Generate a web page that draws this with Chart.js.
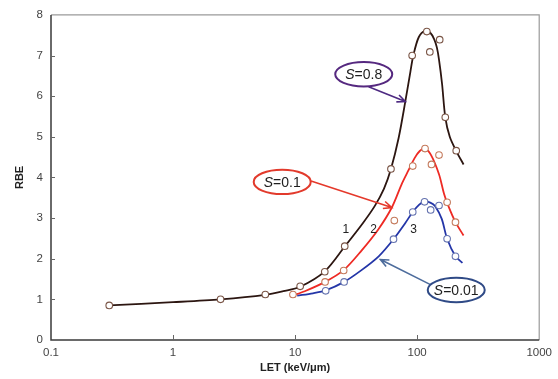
<!DOCTYPE html>
<html>
<head>
  <meta charset="utf-8">
  <title>RBE vs LET</title>
  <script src="https://cdn.jsdelivr.net/npm/chart.js"></script>
  <style>
    html, body { margin: 0; padding: 0; background: #fff; }
    #wrap { width: 558px; height: 379px; }
  </style>
</head>
<body>
  <div id="wrap"><canvas id="myChart" width="558" height="379"></canvas></div>
  <script>
    // measured points (open circles)
    const s08PointLET = [0.30, 2.45, 5.7, 11, 17.5, 25.5, 61, 91, 120, 127, 153, 170, 209];
    const s08PointRBE = [0.85, 1.00, 1.12, 1.32, 1.68, 2.31, 4.21, 7.00, 7.59, 7.09, 7.39, 5.48, 4.66];
    const s01PointLET = [9.6, 17.6, 25, 65, 92, 116, 131, 151, 176, 206];
    const s01PointRBE = [1.12, 1.43, 1.71, 2.94, 4.28, 4.71, 4.32, 4.55, 3.39, 2.90];
    const s001PointLET = [17.8, 25.2, 64, 92, 115, 129, 151, 176, 206];
    const s001PointRBE = [1.21, 1.43, 2.48, 3.15, 3.40, 3.20, 3.31, 2.49, 2.06];

    // fitted curves
    const s08CurveLET = [0.30, 1, 2.45, 5.7, 8, 11, 17.5, 25.5, 36, 45, 53.4, 61, 70.5, 80, 88, 93, 103, 116, 128, 138, 145, 151, 160, 170, 185, 209, 240];
    const s08CurveRBE = [0.85, 0.93, 1.00, 1.11, 1.20, 1.31, 1.69, 2.30, 2.88, 3.30, 3.72, 4.21, 4.97, 5.87, 6.60, 7.00, 7.45, 7.61, 7.56, 7.40, 7.20, 6.90, 6.30, 5.48, 5.00, 4.65, 4.32];
    const s01CurveLET = [9.4, 12, 17.6, 25, 35, 48, 62, 75, 85, 95, 105, 116, 130, 151, 166, 180, 206, 240];
    const s01CurveRBE = [1.09, 1.20, 1.43, 1.72, 2.20, 2.72, 3.26, 3.85, 4.18, 4.47, 4.65, 4.71, 4.55, 4.08, 3.60, 3.30, 2.90, 2.57];
    const s001CurveLET = [10.4, 14, 17.8, 25.2, 35, 48.4, 64, 80, 92, 104, 115, 128, 140, 159, 176, 206, 235];
    const s001CurveRBE = [1.09, 1.15, 1.22, 1.43, 1.72, 2.06, 2.48, 2.88, 3.15, 3.33, 3.41, 3.38, 3.30, 2.98, 2.49, 2.06, 1.90];

    // axis ticks
    const xMajorTicks = [0.1, 1, 10, 100, 1000];
    const yTicks = [0, 1, 2, 3, 4, 5, 6, 7, 8];

    // callouts: label, ellipse centre, arrow start, arrow end (in LET / RBE units)
    const calloutLabels = ['0.8', '0.1', '0.01'];
    const calloutCentre = [[36.5, 6.54], [7.84, 3.89], [209, 1.23]];
    const calloutFrom = [[40, 6.23], [13.5, 3.91], [131, 1.35]];
    const calloutTo = [[80, 5.87], [62, 3.26], [50, 1.98]];
    const curveNumbers = ['1', '2', '3'];
    const curveNumberPos = [[26, 2.72], [44, 2.72], [93.3, 2.72]];

    const FONT = "'Liberation Sans', Arial, sans-serif";

    function pairs(xs, ys) {
      return xs.map((x, i) => ({ x: x, y: ys[i] }));
    }

    function curveSet(xs, ys, color) {
      return {
        data: pairs(xs, ys),
        borderColor: color,
        borderWidth: 1.8,
        pointRadius: 0,
        tension: 0.3,
        fill: false,
        order: 2
      };
    }

    function pointSet(xs, ys, color) {
      return {
        data: pairs(xs, ys),
        showLine: false,
        pointRadius: 3.3,
        pointBorderWidth: 1.1,
        pointBorderColor: color,
        pointBackgroundColor: '#ffffff',
        order: 1
      };
    }

    function arrow(ctx, x1, y1, x2, y2, color) {
      const a = Math.atan2(y2 - y1, x2 - x1);
      const len = 9, spread = 0.42;
      ctx.strokeStyle = color;
      ctx.lineWidth = 1.6;
      ctx.beginPath();
      ctx.moveTo(x1, y1);
      ctx.lineTo(x2, y2);
      ctx.moveTo(x2 - len * Math.cos(a - spread), y2 - len * Math.sin(a - spread));
      ctx.lineTo(x2, y2);
      ctx.lineTo(x2 - len * Math.cos(a + spread), y2 - len * Math.sin(a + spread));
      ctx.stroke();
    }

    const ellipseColors = ['#55287f', '#e23a2c', '#2f4a86'];
    const arrowColors = ['#4e2a82', '#e5392b', '#4d6c9c'];

    const decor = {
      id: 'decor',
      beforeDatasetsDraw(chart) {
        const ctx = chart.ctx;
        const a = chart.chartArea;
        const xs = chart.scales.x, ys = chart.scales.y;
        ctx.save();
        // light top / right frame
        ctx.strokeStyle = '#9a9a9a';
        ctx.lineWidth = 1.2;
        ctx.beginPath();
        ctx.moveTo(a.left, a.top);
        ctx.lineTo(a.right, a.top);
        ctx.lineTo(a.right, a.bottom);
        ctx.stroke();
        // darker left / bottom axes
        ctx.strokeStyle = '#3a3a3a';
        ctx.lineWidth = 1.5;
        ctx.beginPath();
        ctx.moveTo(a.left, a.top);
        ctx.lineTo(a.left, a.bottom);
        ctx.lineTo(a.right, a.bottom);
        ctx.stroke();
        // inward tick marks
        ctx.strokeStyle = '#666';
        ctx.lineWidth = 1;
        ctx.beginPath();
        xMajorTicks.slice(1, -1).forEach(v => {
          const px = Math.round(xs.getPixelForValue(v)) + 0.5;
          ctx.moveTo(px, a.bottom);
          ctx.lineTo(px, a.bottom - 5);
        });
        yTicks.slice(1, -1).forEach(v => {
          const py = Math.round(ys.getPixelForValue(v)) + 0.5;
          ctx.moveTo(a.left, py);
          ctx.lineTo(a.left + 4, py);
        });
        ctx.stroke();
        ctx.restore();
      },
      afterDatasetsDraw(chart) {
        const ctx = chart.ctx;
        const xs = chart.scales.x, ys = chart.scales.y;
        const px = p => [xs.getPixelForValue(p[0]), ys.getPixelForValue(p[1])];
        ctx.save();
        calloutLabels.forEach((lab, i) => {
          const c = px(calloutCentre[i]);
          const f = px(calloutFrom[i]);
          const t = px(calloutTo[i]);
          arrow(ctx, f[0], f[1], t[0], t[1], arrowColors[i]);
          ctx.fillStyle = '#fff';
          ctx.strokeStyle = ellipseColors[i];
          ctx.lineWidth = 2;
          ctx.beginPath();
          ctx.ellipse(c[0], c[1], 28.5, 12.2, 0, 0, Math.PI * 2);
          ctx.fill();
          ctx.stroke();
          // "S" italic + "=value"
          ctx.fillStyle = '#1e1e1e';
          ctx.textBaseline = 'middle';
          ctx.font = 'italic 14px ' + FONT;
          const sW = ctx.measureText('S').width;
          ctx.font = '14px ' + FONT;
          const rest = '=' + lab;
          const rW = ctx.measureText(rest).width;
          const x0 = c[0] - (sW + rW) / 2;
          ctx.textAlign = 'left';
          ctx.font = 'italic 14px ' + FONT;
          ctx.fillText('S', x0, c[1] + 1);
          ctx.font = '14px ' + FONT;
          ctx.fillText(rest, x0 + sW, c[1] + 1);
        });
        ctx.fillStyle = '#222';
        ctx.font = '12px ' + FONT;
        ctx.textAlign = 'center';
        ctx.textBaseline = 'middle';
        curveNumbers.forEach((n, i) => {
          const p = px(curveNumberPos[i]);
          ctx.fillText(n, p[0], p[1]);
        });
        ctx.restore();
      }
    };

    const ctx = document.getElementById('myChart').getContext('2d');
    new Chart(ctx, {
      type: 'line',
      data: {
        datasets: [
          curveSet(s08CurveLET, s08CurveRBE, '#2c1611'),
          curveSet(s01CurveLET, s01CurveRBE, '#ee2a24'),
          curveSet(s001CurveLET, s001CurveRBE, '#2436a8'),
          pointSet(s08PointLET, s08PointRBE, '#7a5546'),
          pointSet(s01PointLET, s01PointRBE, '#c47a5c'),
          pointSet(s001PointLET, s001PointRBE, '#6674b0')
        ]
      },
      options: {
        responsive: false,
        animation: false,
        layout: { padding: { top: 12, right: 17, left: 0, bottom: 0 } },
        plugins: {
          legend: { display: false },
          tooltip: { enabled: false }
        },
        scales: {
          x: {
            type: 'logarithmic',
            min: 0.1,
            max: 1000,
            grid: { display: false, drawTicks: false },
            border: { display: false },
            ticks: {
              autoSkip: false,
              maxRotation: 0,
              padding: 6,
              color: '#444',
              font: { family: FONT, size: 11.5 },
              callback: v => xMajorTicks.some(t => Math.abs(t - v) < 1e-9) ? String(v) : ''
            },
            title: {
              display: true,
              text: 'LET (keV/μm)',
              color: '#222',
              font: { family: FONT, size: 11, weight: 'bold' },
              padding: { top: 2, bottom: 4 }
            },
            afterFit: s => { s.height = 39; }
          },
          y: {
            min: 0,
            max: 8,
            grid: { display: false, drawTicks: false },
            border: { display: false },
            ticks: {
              stepSize: 1,
              padding: 8,
              color: '#444',
              font: { family: FONT, size: 11.5 }
            },
            title: {
              display: true,
              text: 'RBE',
              color: '#222',
              font: { family: FONT, size: 11, weight: 'bold' },
              padding: { top: 13, bottom: 0 }
            },
            afterFit: s => { s.width = 51; }
          }
        }
      },
      plugins: [decor]
    });
  </script>
</body>
</html>
